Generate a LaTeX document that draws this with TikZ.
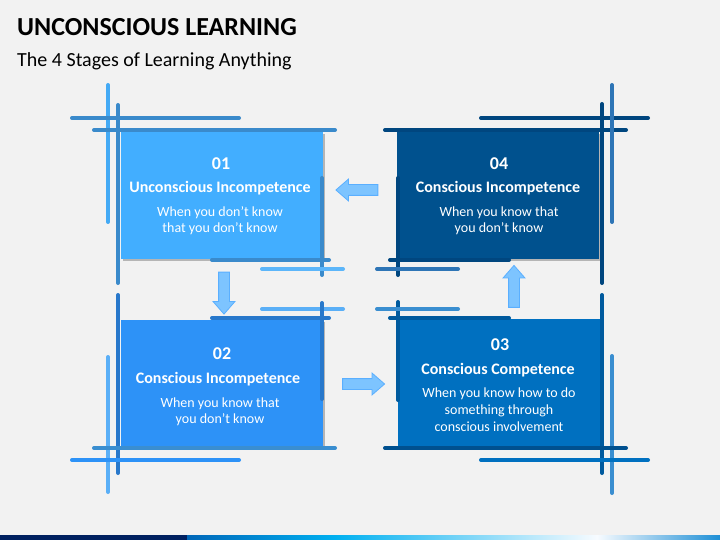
\documentclass[tikz,border=0pt]{standalone}
\usepackage{fontspec}
\setmainfont{Carlito}
\usetikzlibrary{shapes.arrows,shadows}

\definecolor{bgcol}{HTML}{F2F2F2}
\definecolor{fillA}{HTML}{42AEFF}
\definecolor{fillB}{HTML}{2D92F7}
\definecolor{fillC}{HTML}{0070C0}
\definecolor{fillD}{HTML}{00518E}
\definecolor{lineA}{HTML}{3A8ACB}
\definecolor{lineAl}{HTML}{44AAF5}
\definecolor{lineAx}{HTML}{5CB6FA}
\definecolor{lineB}{HTML}{2878CB}
\definecolor{lineBl}{HTML}{5AAFF7}
\definecolor{lineBm}{HTML}{3A8ED0}
\definecolor{lineC}{HTML}{005A9E}
\definecolor{lineCl}{HTML}{3A8ED0}
\definecolor{lineCd}{HTML}{00508F}
\definecolor{lineD}{HTML}{00467F}
\definecolor{lineDl}{HTML}{2E75B6}
\definecolor{arrowfill}{HTML}{7DC4FF}
\definecolor{arrowline}{HTML}{5AAFFF}
\definecolor{barnavy}{HTML}{002060}
\definecolor{barA}{HTML}{0066B8}
\definecolor{barB}{HTML}{00B0F0}
\definecolor{barC}{HTML}{F7FBFF}
\definecolor{barD}{HTML}{1E8FD6}

\tikzset{
  stagebox/.style={rectangle, minimum width=202pt, minimum height=127pt, inner sep=0pt,
    drop shadow={shadow xshift=2.5pt, shadow yshift=-2.5pt, fill=black, opacity=.25}},
  frame/.style={line width=4pt, line cap=round},
  num/.style={anchor=base, inner sep=0pt, text=white, font=\bfseries\fontsize{18}{18}\selectfont},
  ttl/.style={anchor=base, inner sep=0pt, text=white, font=\bfseries\fontsize{16}{16}\selectfont},
  desc/.style={anchor=base, inner sep=0pt, text=white, font=\fontsize{14}{14}\selectfont},
  blockarrow/.style={single arrow, minimum height=42pt, inner sep=5pt,
    single arrow head extend=5.5pt, single arrow tip angle=82,
    fill=arrowfill, draw=arrowline, line width=0.8pt}
}

\begin{document}
\begin{tikzpicture}[x=1pt,y=-1pt]
    \useasboundingbox (0,0) rectangle (720,540);
    \fill[bgcol] (0,0) rectangle (720,540);

    \node[anchor=base west, inner sep=0pt, font=\bfseries\fontsize{26}{26}\selectfont] (title) at (17,36) {UNCONSCIOUS LEARNING};
    \node[anchor=base west, inner sep=0pt, font=\fontsize{20}{20}\selectfont] (subtitle) at (17,67) {The 4 Stages of Learning Anything};

    % boxes
    \node[stagebox, fill=fillA] (s1) at (221.5,195) {};
    \node[stagebox, fill=fillD] (s4) at (498,195) {};
    \node[stagebox, fill=fillB] (s2) at (221.5,383) {};
    \node[stagebox, fill=fillC] (s3) at (498.5,382.5) {};

    % frame lines, box 1
    \draw[frame, lineAl] (108,85) -- (108,222);
    \draw[frame, lineA] (118,105) -- (118,283);
    \draw[frame, lineA] (72,118) -- (239,118);
    \draw[frame, lineA] (94,130) -- (335,130);
    \draw[frame, lineA] (322,178) -- (322,275);
    \draw[frame, lineA] (212,260) -- (329,260);
    \draw[frame, lineAx] (262,269) -- (343,269);

    % box 4
    \draw[frame, lineD] (385,130) -- (626,130);
    \draw[frame, lineD] (481,118) -- (648,118);
    \draw[frame, lineD] (602,104) -- (602,283);
    \draw[frame, lineDl] (612,85) -- (612,222);
    \draw[frame, lineD] (398,178) -- (398,275);
    \draw[frame, lineD] (390,260) -- (509,260);
    \draw[frame, lineDl] (377,269) -- (458,269);

    % box 2
    \draw[frame, lineB] (118,295) -- (118,473);
    \draw[frame, lineBl] (108,357) -- (108,492);
    \draw[frame, lineB] (212,318) -- (329,318);
    \draw[frame, lineBl] (262,309) -- (343,309);
    \draw[frame, lineB] (322,303) -- (322,399);
    \draw[frame, lineBm] (94,448) -- (335,448);
    \draw[frame, fillB] (72,460) -- (239,460);

    % box 3
    \draw[frame, lineC] (398,302) -- (398,400);
    \draw[frame, lineC] (390,318) -- (509,318);
    \draw[frame, lineCl] (377,309) -- (458,309);
    \draw[frame, lineC] (602,295) -- (602,473);
    \draw[frame, lineCl] (612,356) -- (612,493);
    \draw[frame, lineCd] (385,448) -- (626,448);
    \draw[frame, fillC] (481,460) -- (648,460);

    % arrows
    \node[blockarrow, shape border rotate=180] (a41) at (360,190) {};
    \node[blockarrow, shape border rotate=270] (a12) at (224,290) {};
    \node[blockarrow] (a23) at (360.5,384) {};
    \node[blockarrow, shape border rotate=90] (a34) at (514,289.5) {};

    % texts
    \node[num] (n1) at (221,170) {01};
    \node[ttl] (t1) at (220,193) {Unconscious Incompetence};
    \node[desc] (d1a) at (220,216) {When you don’t know};
    \node[desc] (d1b) at (220,233) {that you don’t know};

    \node[num] (n4) at (499,170) {04};
    \node[ttl] (t4) at (498,193) {Conscious Incompetence};
    \node[desc] (d4a) at (499,216) {When you know that};
    \node[desc] (d4b) at (499,233) {you don’t know};

    \node[num] (n2) at (222,359) {02};
    \node[ttl] (t2) at (218,383) {Conscious Incompetence};
    \node[desc] (d2a) at (220,407) {When you know that};
    \node[desc] (d2b) at (220,423) {you don’t know};

    \node[num] (n3) at (500,350) {03};
    \node[ttl] (t3) at (498,374) {Conscious Competence};
    \node[desc] (d3a) at (499,397) {When you know how to do};
    \node[desc] (d3b) at (499,414) {something through};
    \node[desc] (d3c) at (499,431) {conscious involvement};

    % bottom bar
    \fill[barnavy] (0,535) rectangle (187,540);
    \shade[left color=barA, right color=barB] (187,535) rectangle (335,540);
    \shade[left color=barB, right color=barC] (335,535) rectangle (597,540);
    \shade[left color=barC, right color=barD] (597,535) rectangle (720,540);

\end{tikzpicture}
\end{document}
